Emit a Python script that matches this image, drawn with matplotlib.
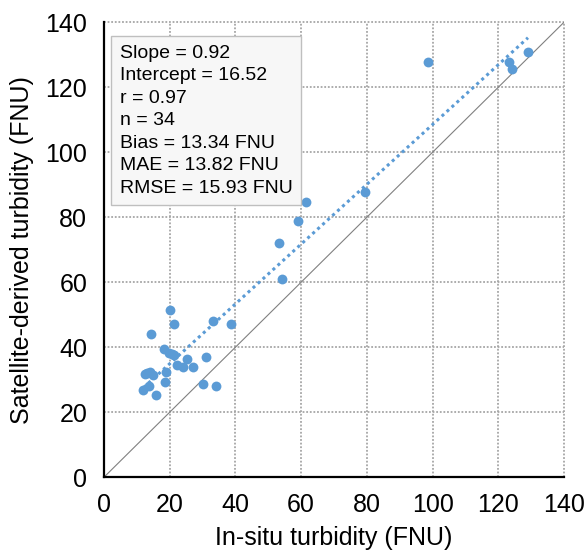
import numpy as np
import matplotlib.pyplot as plt

plt.rcParams['font.family'] = ['Liberation Sans', 'DejaVu Sans']

insitu = [20.0, 21.3, 14.3, 33.3, 38.6, 18.4, 19.9, 21.3, 25.4, 31.0,
          22.3, 24.1, 27.0, 13.0, 14.0, 15.0, 18.8, 13.8, 12.0, 18.6,
          15.8, 30.1, 34.1, 98.6, 129.0, 123.2, 124.2, 79.5, 61.6, 58.9,
          53.2, 54.3, 12.6, 20.6]
satellite = [51.5, 47.1, 44.0, 48.1, 47.0, 39.6, 38.2, 37.6, 36.3, 36.9,
             34.5, 33.8, 33.9, 32.1, 32.5, 31.6, 32.4, 28.0, 26.8, 29.2,
             25.3, 28.6, 28.1, 127.7, 130.8, 127.7, 125.5, 87.6, 84.6, 78.7,
             72.1, 61.0, 31.8, 37.9]

slope, intercept = 0.92, 16.52
stats = ["Slope = 0.92", "Intercept = 16.52", "r = 0.97", "n = 34",
         "Bias = 13.34 FNU", "MAE = 13.82 FNU", "RMSE = 15.93 FNU"]

fig = plt.figure(figsize=(5.84, 5.53), dpi=100)
ax = fig.add_axes([0.178, 0.137, 0.788, 0.823])

ax.set_xlim(0, 140)
ax.set_ylim(0, 140)
ticks = np.arange(0, 141, 20)
ax.set_xticks(ticks)
ax.set_yticks(ticks)
ax.grid(True, color='#a6a6a6', linestyle=(0, (1, 1)), linewidth=1.3)
ax.set_axisbelow(True)
for gl in ax.get_xgridlines() + ax.get_ygridlines():
    gl.set_clip_on(False)

ax.spines['top'].set_visible(False)
ax.spines['right'].set_visible(False)
ax.spines['left'].set_linewidth(1.6)
ax.spines['bottom'].set_linewidth(1.6)
ax.tick_params(axis='x', length=0, labelsize=18, pad=11)
ax.tick_params(axis='y', length=0, labelsize=18, pad=12)

ax.plot([0, 140], [0, 140], color='#808080', linewidth=0.8, zorder=2)

xs = np.array([min(insitu), max(insitu)])
ax.plot(xs, slope * xs + intercept, color='#5b9bd5', linestyle=(0, (1, 1.2)),
        linewidth=2.2, zorder=3)

ax.scatter(insitu, satellite, s=50, color='#5b9bd5', zorder=4, linewidths=0)

ax.text(4.8, 133.0, "\n".join(stats), fontsize=14, va='top', ha='left',
        linespacing=1.42, zorder=5,
        bbox=dict(boxstyle='square,pad=0.45', facecolor='#f7f7f7',
                  edgecolor='#bfbfbf', linewidth=1))

ax.set_xlabel("In-situ turbidity (FNU)", fontsize=18, labelpad=7)
ax.set_ylabel("Satellite-derived turbidity (FNU)", fontsize=18, labelpad=8)

fig.savefig("out.png", dpi=100)
